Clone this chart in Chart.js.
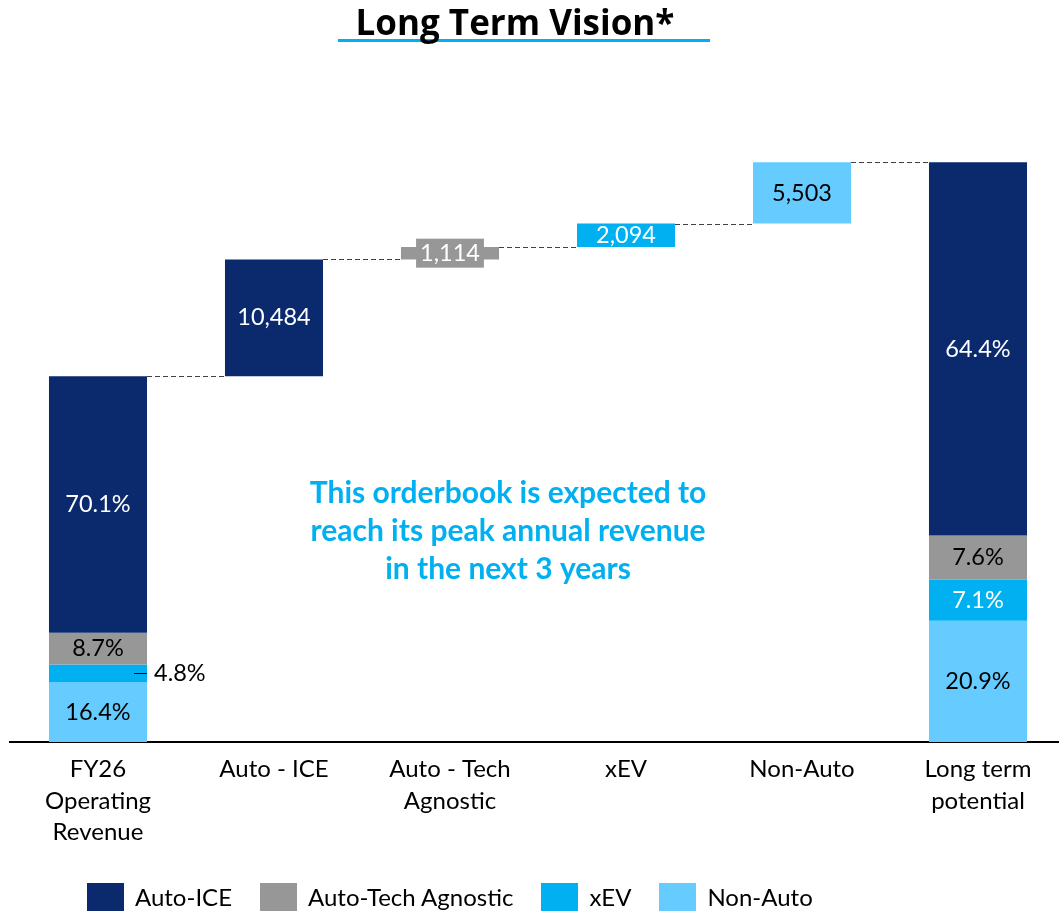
<!DOCTYPE html>
<html>
<head>
<meta charset="utf-8">
<script src="https://cdn.jsdelivr.net/npm/chart.js@4.4.1/dist/chart.umd.min.js"></script>
<style>
  html, body { margin: 0; padding: 0; background: #fff; overflow: hidden; }
  body { width: 1059px; height: 912px; position: relative; font-family: Lato, sans-serif; }
  #wrap { position: absolute; left: 0; top: 0; width: 1066px; height: 912px; }
  #title {
    position: absolute; left: 338px; top: 0; width: 354px; height: 39px; padding-right: 18px;
    text-align: center; font-family: 'Open Sans', sans-serif; font-weight: bold; font-size: 35px; line-height: 44px;
    border-bottom: 3px solid #00B0F0; color: #000;
  }
  #legend { position: absolute; left: 87px; top: 882px; display: flex; align-items: center; }
  .item { display: flex; align-items: center; margin-right: 28px; font-size: 24px; color: #000; }
  .box { width: 37px; height: 28px; margin-right: 11px; }
</style>
</head>
<body>
<div id="wrap"><canvas id="chart"></canvas></div>
<div id="title">Long Term Vision*</div>
<div id="legend"></div>
<script>
// categories along the x axis
const categories = [['FY26', 'Operating', 'Revenue'], 'Auto - ICE', ['Auto - Tech', 'Agnostic'], 'xEV', 'Non-Auto', ['Long term', 'potential']];
// segments, top of stack first
const segments = ['Auto-ICE', 'Auto-Tech Agnostic', 'xEV', 'Non-Auto'];
const fy26Total = 32800;
const fy26Share = [70.1, 8.7, 4.8, 16.4];
const increments = [10484, 1114, 2094, 5503];
const longTermShare = [64.4, 7.6, 7.1, 20.9];
const note = ['This orderbook is expected to', 'reach its peak annual revenue', 'in the next 3 years'];

const colors = ['#0B2A6E', '#979797', '#00B0F0', '#66CCFF'];
const totalLabelColors = [['#fff', '#000', '#000', '#000'], ['#fff', '#000', '#fff', '#000']];
const incLabelColors = ['#fff', '#fff', '#fff', '#000'];

const longTermTotal = fy26Total + increments.reduce((a, b) => a + b, 0);

// stacked ranges for a total bar (bottom = last segment)
function stackRanges(total, shares) {
    const out = new Array(shares.length);
    let cum = 0;
    for (let k = shares.length - 1; k >= 0; k--) {
        const h = total * shares[k] / 100;
        out[k] = [cum, cum + h];
        cum += h;
    }
    return out;
}
const fyRanges = stackRanges(fy26Total, fy26Share);
const ltRanges = stackRanges(longTermTotal, longTermShare);

// running totals for the floating bars
const running = [fy26Total];
increments.forEach(v => running.push(running[running.length - 1] + v));

const datasets = segments.map((name, k) => {
    const data = new Array(categories.length).fill(null);
    data[0] = fyRanges[k];
    data[k + 1] = [running[k], running[k + 1]];
    data[5] = ltRanges[k];
    return {
        label: name,
        data: data,
        backgroundColor: colors[k],
        grouped: false,
        barPercentage: 0.557,
        categoryPercentage: 1
    };
});

const fmt = v => v.toLocaleString('en-US');

const overlay = {
    id: 'overlay',
    afterDatasetsDraw(chart) {
        const ctx = chart.ctx;
        const area = chart.chartArea;
        const yScale = chart.scales.y;
        ctx.save();

        // dashed connectors
        ctx.strokeStyle = '#404040';
        ctx.lineWidth = 1;
        ctx.setLineDash([5, 3]);
        for (let i = 0; i < running.length; i++) {
            const a = chart.getDatasetMeta(Math.max(0, i - 1)).data[i];
            const b = chart.getDatasetMeta(Math.min(3, i)).data[i + 1];
            const y = Math.round(yScale.getPixelForValue(running[i])) + 0.5;
            ctx.beginPath();
            ctx.moveTo(a.x + a.width / 2, y);
            ctx.lineTo(b.x - b.width / 2, y);
            ctx.stroke();
        }
        ctx.setLineDash([]);

        // labels
        ctx.font = '23.5px Lato';
        ctx.textBaseline = 'middle';
        ctx.textAlign = 'center';
        segments.forEach((name, k) => {
            const meta = chart.getDatasetMeta(k);
            [0, 5].forEach((idx, t) => {
                const el = meta.data[idx];
                const top = el.y, bottom = el.base;
                const cy = (top + bottom) / 2;
                const txt = (t === 0 ? fy26Share[k] : longTermShare[k]).toFixed(1) + '%';
                if (Math.abs(bottom - top) < 22) {
                    const right = el.x + el.width / 2;
                    ctx.strokeStyle = '#000';
                    ctx.beginPath();
                    ctx.moveTo(right - 13, Math.round(cy) + 0.5);
                    ctx.lineTo(right, Math.round(cy) + 0.5);
                    ctx.stroke();
                    ctx.fillStyle = '#000';
                    ctx.textAlign = 'left';
                    ctx.fillText(txt, right + 7, cy);
                    ctx.textAlign = 'center';
                } else {
                    ctx.fillStyle = totalLabelColors[t][k];
                    ctx.fillText(txt, el.x, cy);
                }
            });
            const el = meta.data[k + 1];
            const cy = (el.y + el.base) / 2;
            const txt = fmt(increments[k]);
            if (Math.abs(el.base - el.y) < 22) {
                const w = ctx.measureText(txt).width + 8;
                ctx.fillStyle = colors[k];
                ctx.fillRect(el.x - w / 2, cy - 14.5, w, 29);
            }
            ctx.fillStyle = incLabelColors[k];
            ctx.fillText(txt, el.x, cy);
        });

        // note in the middle of the plot
        ctx.font = 'bold 30px Lato';
        ctx.fillStyle = '#00B0F0';
        const nx = area.left + (area.right - area.left) * 0.4716;
        note.forEach((line, i) => {
            ctx.fillText(line, nx, area.top + 420 + i * 38);
        });
        ctx.restore();
    }
};

new Chart(document.getElementById('chart'), {
    type: 'bar',
    data: { labels: categories, datasets: datasets },
    options: {
        responsive: true,
        maintainAspectRatio: false,
        animation: false,
        layout: { padding: { top: 73, left: 10, right: 0, bottom: 0 } },
        plugins: {
            legend: { display: false },
            tooltip: { enabled: false }
        },
        scales: {
            x: {
                grid: { display: false, drawTicks: false },
                border: { display: true, color: '#000', width: 2 },
                ticks: {
                    color: '#000',
                    font: { family: 'Lato', size: 24, lineHeight: 1.3 },
                    padding: 12,
                    maxRotation: 0,
                    autoSkip: false
                },
                afterFit: s => { s.height = 170; }
            },
            y: {
                display: false,
                min: 0,
                max: 60000
            }
        }
    },
    plugins: [overlay]
});

const legend = document.getElementById('legend');
segments.forEach((name, k) => {
    const item = document.createElement('div');
    item.className = 'item';
    item.innerHTML = '<div class="box" style="background:' + colors[k] + '"></div>' + name;
    legend.appendChild(item);
});
</script>
</body>
</html>
